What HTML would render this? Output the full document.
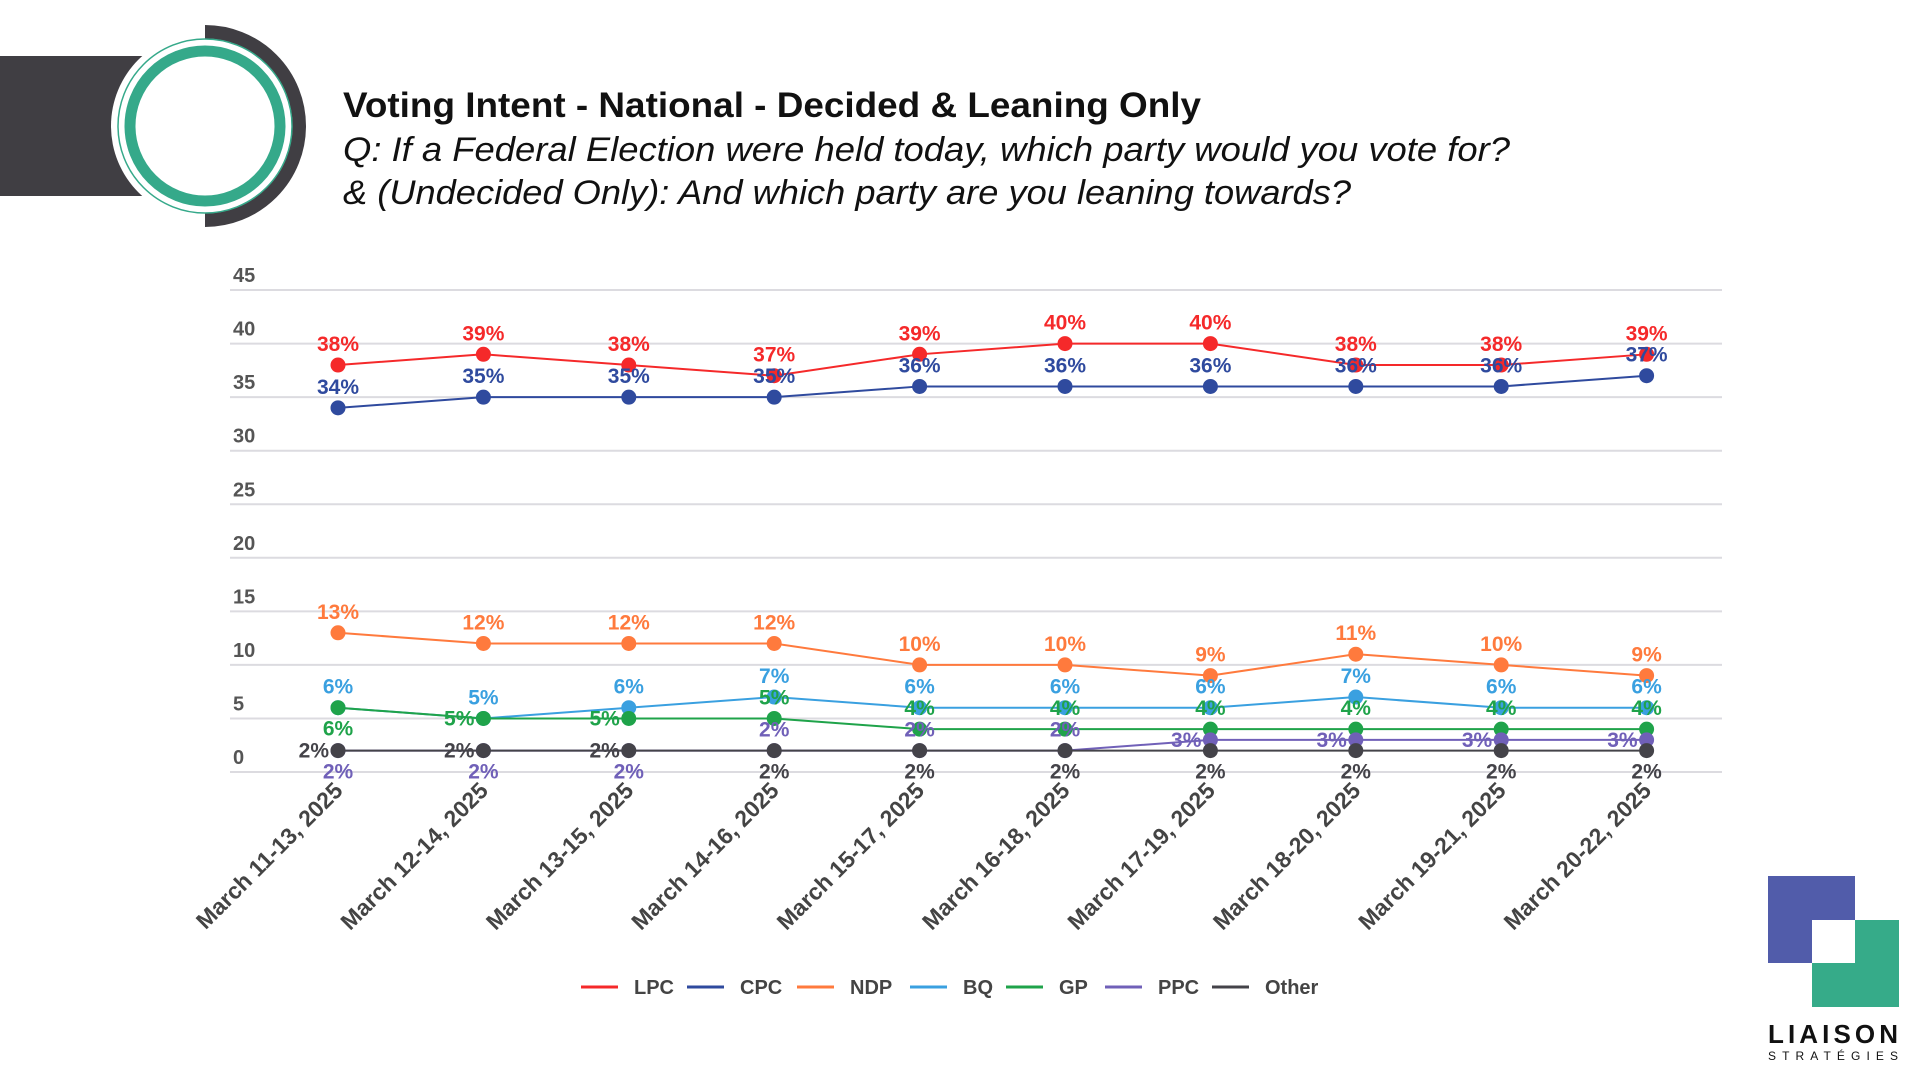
<!DOCTYPE html>
<html><head><meta charset="utf-8"><style>
html,body{margin:0;padding:0;background:#fff;}
svg{display:block;font-family:"Liberation Sans",sans-serif;}
</style></head><body>
<svg id="chart" width="1920" height="1080" viewBox="0 0 1920 1080">
  <g>
    <rect x="0" y="56" width="160" height="140" fill="#403e43"/>
    <circle cx="205" cy="126" r="94" fill="#fff"/>
    <path d="M205 32 A94 94 0 0 1 205 220" fill="none" stroke="#403e43" stroke-width="14"/>
    <circle cx="205" cy="126" r="86" fill="none" stroke="#fff" stroke-width="3"/>
    <circle cx="205" cy="126" r="87" fill="none" stroke="#35a98a" stroke-width="1.5"/>
    <circle cx="205" cy="126" r="75" fill="none" stroke="#35a98a" stroke-width="11"/>
  </g>
  <text x="343" y="117" font-size="35" font-weight="bold" fill="#111" textLength="858" lengthAdjust="spacingAndGlyphs">Voting Intent - National - Decided &amp; Leaning Only</text>
  <text x="343" y="161" font-size="34" font-style="italic" fill="#111" textLength="1167" lengthAdjust="spacingAndGlyphs">Q: If a Federal Election were held today, which party would you vote for?</text>
  <text x="343" y="204" font-size="34" font-style="italic" fill="#111" textLength="1008" lengthAdjust="spacingAndGlyphs">&amp; (Undecided Only): And which party are you leaning towards?</text>
  <g id="grid"></g>
  <g id="series"></g>
  <g id="xlabels"></g>
  <g id="legend"></g>
  <g>
    <rect x="1768" y="876" width="87" height="87" fill="#515caa"/>
    <rect x="1812" y="920" width="87" height="87" fill="#36ab89"/>
    <rect x="1812" y="920" width="43" height="43" fill="#fff"/>
    <text x="1768" y="1043" font-size="26" font-weight="bold" fill="#111" textLength="130" lengthAdjust="spacing">LIAISON</text>
    <text x="1768" y="1060" font-size="12" fill="#111" textLength="130" lengthAdjust="spacing">STRATÉGIES</text>
  </g>
</svg>
<script>
const categories = ["March 11-13, 2025","March 12-14, 2025","March 13-15, 2025","March 14-16, 2025","March 15-17, 2025","March 16-18, 2025","March 17-19, 2025","March 18-20, 2025","March 19-21, 2025","March 20-22, 2025"];
const yTicks = [0,5,10,15,20,25,30,35,40,45];
const seriesNames = ["LPC","CPC","NDP","BQ","GP","PPC","Other"];
const lpc = [38,39,38,37,39,40,40,38,38,39];
const cpc = [34,35,35,35,36,36,36,36,36,37];
const ndp = [13,12,12,12,10,10,9,11,10,9];
const bq = [6,5,6,7,6,6,6,7,6,6];
const gp = [6,5,5,5,4,4,4,4,4,4];
const ppc = [2,2,2,2,2,2,3,3,3,3];
const other = [2,2,2,2,2,2,2,2,2,2];
const colors = ["#f5292a","#2f4a9e","#ff7a3d","#3aa0e0","#1fa34a","#7060b8","#444349"];
// label placement: a=above, b=below, l=left
const placements = [
  "aaaaaaaaaa","aaaaaaaaaa","aaaaaaaaaa","aaaaaaaaaa",
  "bllaaaaaaa","bbbaaallll","lllbbbbbbb"
];
const seriesData = [lpc,cpc,ndp,bq,gp,ppc,other];

const NS = "http://www.w3.org/2000/svg";
const X0 = 338, XSTEP = 145.4, Y0 = 772, YPX = 10.71;
const xScale = i => X0 + i * XSTEP;
const yScale = v => Y0 - v * YPX;
function mk(tag, attrs, parent){
  const e = document.createElementNS(NS, tag);
  for (const k in attrs) e.setAttribute(k, attrs[k]);
  parent.appendChild(e);
  return e;
}
const grid = document.getElementById('grid');
yTicks.forEach(t => {
  const ln = mk('line',{x1:230,x2:1722,y1:yScale(t),y2:yScale(t),stroke:'#dcdbe0','stroke-width':2},grid);
  
  
  const tx = mk('text',{x:233,y:yScale(t)-8,'font-size':20,'font-weight':'bold',fill:'#555'},grid);
  tx.textContent = t;
  
  
});
const sg = document.getElementById('series');
const labelsLayer = mk('g',{},sg);
seriesData.forEach((vals, s) => {
  const g = mk('g',{},sg);
  
  
  sg.insertBefore(g, labelsLayer);
  const pts = vals.map((v,i)=> xScale(i)+','+yScale(v)).join(' ');
  const pl = mk('polyline',{points:pts,fill:'none',stroke:colors[s],'stroke-width':2},g);
  
  
  vals.forEach((v,i) => {
    const c = mk('circle',{cx:xScale(i),cy:yScale(v),r:7.5,fill:colors[s]},g);
    
    
    const p = placements[s][i];
    let x = xScale(i), y = yScale(v) - 14, anchor = 'middle';
    if (p === 'b') { y = yScale(v) + 28; }
    if (p === 'l') { x = xScale(i) - 9; y = yScale(v) + 7; anchor = 'end'; }
    const t = mk('text',{x:x,y:y,'text-anchor':anchor,'font-size':21,'font-weight':'bold',fill:colors[s]},labelsLayer);
    t.textContent = v + '%';
    
    
  });
});
const xl = document.getElementById('xlabels');
categories.forEach((c,i) => {
  const x = xScale(i) + 6, y = 792;
  const t = mk('text',{x:x,y:y,'text-anchor':'end','font-size':23,'font-weight':'bold',fill:'#444',transform:'rotate(-45 '+x+' '+y+')'},xl);
  t.textContent = c;
  
  
});
const lg = document.getElementById('legend');
const legX = [581,687,797,910,1006,1105,1212];
seriesNames.forEach((n,s) => {
  const g = mk('g',{},lg);
  
  
  mk('line',{x1:legX[s],x2:legX[s]+37,y1:987,y2:987,stroke:colors[s],'stroke-width':3},g);
  const t = mk('text',{x:legX[s]+53,y:994,'font-size':20,'font-weight':'bold',fill:'#444'},g);
  t.textContent = n;
});
</script>
</body></html>
